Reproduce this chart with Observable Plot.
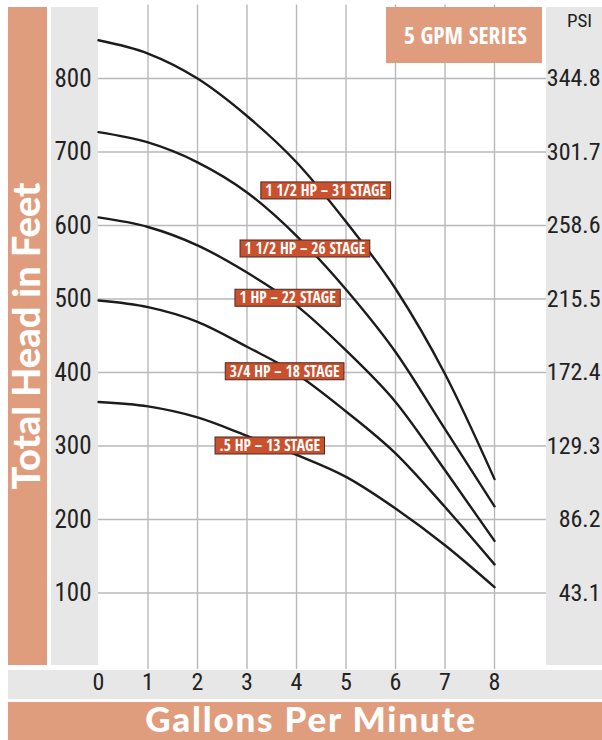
<!DOCTYPE html>
<html>
<head>
<meta charset="utf-8">
<script src="https://cdn.jsdelivr.net/npm/d3@7"></script>
<script src="https://cdn.jsdelivr.net/npm/@observablehq/plot@0.6"></script>
<style>
html, body { margin: 0; padding: 0; background: #ffffff; }
#chart { width: 602px; height: 740px; }
</style>
</head>
<body>
<div id="chart"></div>
<script>
// ---- data ----
const gpm = [0, 1, 2, 3, 4, 5, 6, 7, 8];
const seriesNames = ["31 stage", "26 stage", "22 stage", "18 stage", "13 stage"];
const head31 = [852, 834, 800, 749, 686, 605, 514, 398, 255];
const head26 = [727, 713, 686, 645, 586, 513, 428, 323, 218];
const head22 = [611, 598, 573, 536, 491, 430, 360, 267, 171];
const head18 = [498, 489, 469, 435, 398, 347, 290, 217, 139];
const head13 = [360, 354, 339, 314, 288, 258, 215, 165, 108];

const labelTexts = ["1 1/2 HP – 31 STAGE", "1 1/2 HP – 26 STAGE", "1 HP – 22 STAGE", "3/4 HP – 18 STAGE", ".5 HP – 13 STAGE"];
const labelGpm = [4.59, 4.17, 3.82, 3.76, 3.46];
const labelHead = [647, 568, 501, 401, 300];

const headTicks = [100, 200, 300, 400, 500, 600, 700, 800];
const psiTicks = ["43.1", "86.2", "129.3", "172.4", "215.5", "258.6", "301.7", "344.8"];
const gpmTicks = [0, 1, 2, 3, 4, 5, 6, 7, 8];
const gpmGrid = [1, 2, 3, 4, 5, 6, 7, 8];

const seriesTitle = "5 GPM SERIES";
const psiTitle = "PSI";
const yTitle = "Total Head in Feet";
const xTitle = "Gallons Per Minute";

// ---- build tables ----
const heads = [head31, head26, head22, head18, head13];
const rows = seriesNames.flatMap((s, i) => gpm.map((g, j) => ({series: s, gpm: g, head: heads[i][j]})));
const labels = labelTexts.map((t, i) => ({text: t, gpm: labelGpm[i], head: labelHead[i]}));

const COND = "'Roboto Condensed', 'Open Sans', sans-serif";
const BOLDCOND = "'Open Sans Condensed', 'Roboto Condensed', sans-serif";
const SALMON = "#e09d7e";
const BAND = "#e7e7e7";
const GRID = "#b9b9bc";
const INK = "#222222";

const chart = Plot.plot({
  width: 602,
  height: 740,
  marginLeft: 98,
  marginRight: 56,
  marginTop: 4.5,
  marginBottom: 71,
  style: {background: "transparent", fontFamily: COND, overflow: "visible"},
  x: {domain: [0, 9.05], axis: null},
  y: {domain: [-4, 900], axis: null},
  marks: [
    Plot.gridX(gpmGrid, {stroke: GRID, strokeOpacity: 1, strokeWidth: 1.4}),
    Plot.gridY(headTicks, {stroke: GRID, strokeOpacity: 1, strokeWidth: 1.4}),
    Plot.line(rows, {x: "gpm", y: "head", z: "series", curve: "monotone-x", stroke: "#1c1c1c", strokeWidth: 2.4}),
    Plot.text(labels, {x: "gpm", y: "head", text: "text", fill: "#ffffff", fontSize: 15.5, fontWeight: "bold", fontFamily: BOLDCOND, className: "curve-label"}),
    Plot.text(headTicks, {y: d => d, text: d => String(d), frameAnchor: "left", textAnchor: "end", lineAnchor: "middle", dx: -7, fontSize: 25, fill: INK}),
    Plot.text(headTicks, {y: d => d, text: (d, i) => psiTicks[i], frameAnchor: "right", textAnchor: "end", lineAnchor: "middle", dx: 54, fontSize: 24, fill: INK}),
    Plot.text(gpmTicks, {x: d => d, text: d => String(d), frameAnchor: "bottom", lineAnchor: "middle", dy: 13, fontSize: 24, fill: INK}),
    Plot.text([psiTitle], {text: d => d, frameAnchor: "top-right", textAnchor: "middle", lineAnchor: "middle", dx: 33, dy: 16, fontSize: 19, fill: INK}),
    Plot.text([seriesTitle], {text: d => d, frameAnchor: "top-right", textAnchor: "middle", lineAnchor: "middle", dx: -81, dy: 31, fontSize: 23.5, fontWeight: "bold", fontFamily: BOLDCOND, fill: "#ffffff", className: "series-title"})
  ]
});

document.getElementById("chart").appendChild(chart);
const svg = d3.select(chart);
const NS = "http://www.w3.org/2000/svg";

// background bands
const bands = [
  {x: 8, y: 7, w: 39, h: 658, fill: SALMON},
  {x: 51, y: 7, w: 47, h: 658, fill: BAND},
  {x: 546, y: 7, w: 56, h: 658, fill: BAND},
  {x: 8, y: 670, w: 594, h: 29, fill: BAND},
  {x: 8, y: 702, w: 594, h: 38, fill: SALMON}
];
const bg = svg.insert("g", ":first-child");
bg.selectAll("rect").data(bands).join("rect")
  .attr("x", d => d.x).attr("y", d => d.y)
  .attr("width", d => d.w).attr("height", d => d.h)
  .attr("fill", d => d.fill);

// series title box (drawn above the grid, below its text)
const titleG = svg.select("g.series-title").node();
if (titleG) {
  const r = document.createElementNS(NS, "rect");
  r.setAttribute("x", 386); r.setAttribute("y", 7);
  r.setAttribute("width", 156); r.setAttribute("height", 56);
  r.setAttribute("fill", SALMON);
  titleG.parentNode.insertBefore(r, titleG);
}

// curve label boxes
svg.selectAll("g.curve-label text").each(function () {
  const b = this.getBBox();
  const cy = b.y + b.height / 2 + 0.5;
  const r = document.createElementNS(NS, "rect");
  r.setAttribute("x", b.x - 4.5);
  r.setAttribute("y", cy - 8.5);
  r.setAttribute("width", b.width + 9);
  r.setAttribute("height", 17);
  r.setAttribute("fill", "#c9512e");
  r.setAttribute("stroke", "#4a2a20");
  r.setAttribute("stroke-width", 1);
  const t = this.getAttribute("transform");
  if (t) r.setAttribute("transform", t);
  this.parentNode.insertBefore(r, this);
});

// axis titles
svg.append("text")
  .attr("transform", "translate(40,336) rotate(-90)")
  .attr("text-anchor", "middle")
  .attr("fill", "#ffffff")
  .attr("font-family", "Lato, 'DejaVu Sans', sans-serif")
  .attr("font-weight", 900)
  .attr("font-size", 38)
  .text(yTitle);

svg.append("text")
  .attr("x", 311).attr("y", 732)
  .attr("text-anchor", "middle")
  .attr("fill", "#ffffff")
  .attr("font-family", "Lato, 'DejaVu Sans', sans-serif")
  .attr("font-weight", 900)
  .attr("font-size", 35)
  .attr("letter-spacing", 1.8)
  .text(xTitle);
</script>
</body>
</html>
